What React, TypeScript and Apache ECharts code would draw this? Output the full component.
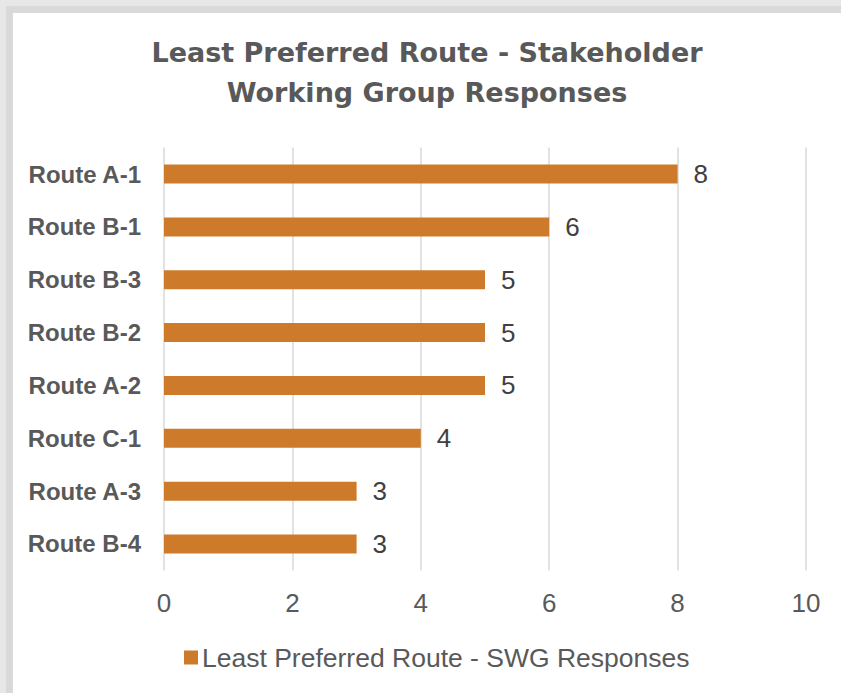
import React, { useEffect, useRef } from "react";
import * as echarts from "echarts";

const categories = ["Route A-1", "Route B-1", "Route B-3", "Route B-2", "Route A-2", "Route C-1", "Route A-3", "Route B-4"];
const values = [8, 6, 5, 5, 5, 4, 3, 3];
const seriesName = "Least Preferred Route - SWG Responses";
const titleText = "Least Preferred Route - Stakeholder\nWorking Group Responses";
const xMin = 0;
const xMax = 10;
const xInterval = 2;

export default function App() {
  const ref = useRef<HTMLDivElement>(null);
  useEffect(() => {
    document.body.style.margin = "0";
    if (!ref.current) return;
    const chart = echarts.init(ref.current, null, { renderer: "svg" });
    chart.setOption({
      animation: false,
      backgroundColor: "#ffffff",
      title: {
        text: titleText,
        left: "center",
        top: 14,
        textStyle: {
          fontFamily: "DejaVu Sans",
          fontWeight: "bold",
          fontSize: 27,
          lineHeight: 40,
          color: "#595959",
        },
      },
      legend: {
        bottom: 17,
        left: 166,
        itemWidth: 14,
        itemHeight: 14,
        icon: "rect",
        itemGap: 10,
        textStyle: {
          fontFamily: "Liberation Sans, Arial, sans-serif",
          fontSize: 26.5,
          color: "#595959",
          padding: [0, 0, 0, -1],
        },
        data: [seriesName],
      },
      grid: {
        left: 151,
        right: 35,
        top: 134.6,
        bottom: 122.6,
        containLabel: false,
      },
      xAxis: {
        type: "value",
        min: xMin,
        max: xMax,
        interval: xInterval,
        axisLine: { show: false },
        axisTick: { show: false },
        splitLine: { show: true, lineStyle: { color: "#d9d9d9", width: 1.5 } },
        axisLabel: {
          margin: 20,
          fontFamily: "Liberation Sans, Arial, sans-serif",
          fontSize: 26,
          color: "#595959",
        },
      },
      yAxis: {
        type: "category",
        inverse: true,
        data: categories,
        axisLine: { show: false },
        axisTick: { show: false },
        splitLine: { show: false },
        axisLabel: {
          margin: 23,
          fontFamily: "Liberation Sans, Arial, sans-serif",
          fontWeight: "bold",
          fontSize: 24,
          color: "#595959",
        },
      },
      series: [
        {
          name: seriesName,
          type: "bar",
          data: values,
          barWidth: 19,
          itemStyle: { color: "#CD7B2B" },
          label: {
            show: true,
            position: "right",
            distance: 16,
            fontFamily: "Liberation Sans, Arial, sans-serif",
            fontSize: 26,
            color: "#404040",
          },
        },
      ],
    });
    return () => chart.dispose();
  }, []);

  return (
    <div style={{ position: "relative", width: 841, height: 693, background: "#e7e7e7", overflow: "hidden" }}>
      <div style={{ position: "absolute", left: 6, top: 6, width: 835, height: 687, background: "#d9d9d9" }} />
      <div ref={ref} style={{ position: "absolute", left: 13, top: 13, width: 828, height: 680 }} />
    </div>
  );
}
